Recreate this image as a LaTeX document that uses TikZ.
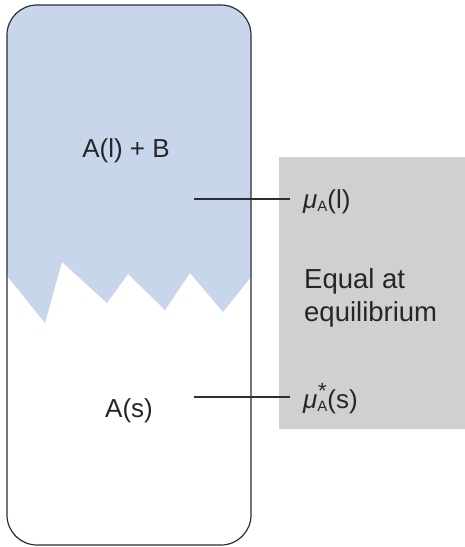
\documentclass[tikz,border=0pt]{standalone}
\usepackage{fontspec}
\setmainfont{Liberation Sans}
\definecolor{liqblue}{RGB}{200,214,236}
\definecolor{boxgray}{RGB}{208,208,208}
\definecolor{edgecol}{RGB}{45,45,50}
\newcommand{\subA}{\raisebox{-3pt}{\fontsize{15}{15}\selectfont A}}
\newcommand{\subAstar}{\raisebox{-3pt}{\fontsize{15}{15}\selectfont\ooalign{A\cr\hfil\raisebox{13pt}{\fontsize{22}{22}\selectfont *}\hfil\cr}}}
\begin{document}
\begin{tikzpicture}[x=1pt,y=-1pt,
  lbl/.style={font=\fontsize{26}{30}\selectfont, inner sep=0pt, text=black!85},
  mulbl/.style={font=\fontsize{26}{30}\selectfont, inner ysep=0pt, inner xsep=13pt, text=black!85, anchor=base west},
  eqlbl/.style={font=\fontsize{27.5}{33}\selectfont, inner sep=0pt, align=left, text=black!85},
  vessel/.style={draw=edgecol, line width=1.2pt, rounded corners=30pt},
  tie/.style={draw=edgecol, line width=1.1pt}]
\useasboundingbox (0,0) rectangle (465,547);
% gray box
\fill[boxgray] (279,157) rectangle (465,429);
% liquid region
\begin{scope}
  \clip[rounded corners=30pt] (7,5) rectangle (251,545);
  \fill[liqblue] (0,0) -- (0,276) -- (7,276) -- (45,323) -- (62,262) -- (107,303) -- (128,274)
     -- (165,310) -- (190,273) -- (223,312) -- (251,277) -- (260,277) -- (260,0) -- cycle;
\end{scope}
% vessel
\draw[vessel] (7,5) rectangle (251,545);
% labels
\node[lbl, anchor=base] (liq) at (126,157) {A(l) + B};
\node[lbl, anchor=base] (sol) at (129,417) {A(s)};
\node[mulbl] (mul) at (290,208) {{\itshape μ}\subA(l)};
\node[mulbl] (mus) at (290,408) {{\itshape μ}\subAstar(s)};
\node[eqlbl, anchor=north west] (eq) at (304,268) {Equal at\\equilibrium};
% ties
\coordinate (c1) at (194,199);
\coordinate (c2) at (194,397);
\draw[tie] (c1) -- (c1 -| mul.west);
\draw[tie] (c2) -- (c2 -| mus.west);
\end{tikzpicture}
\end{document}
